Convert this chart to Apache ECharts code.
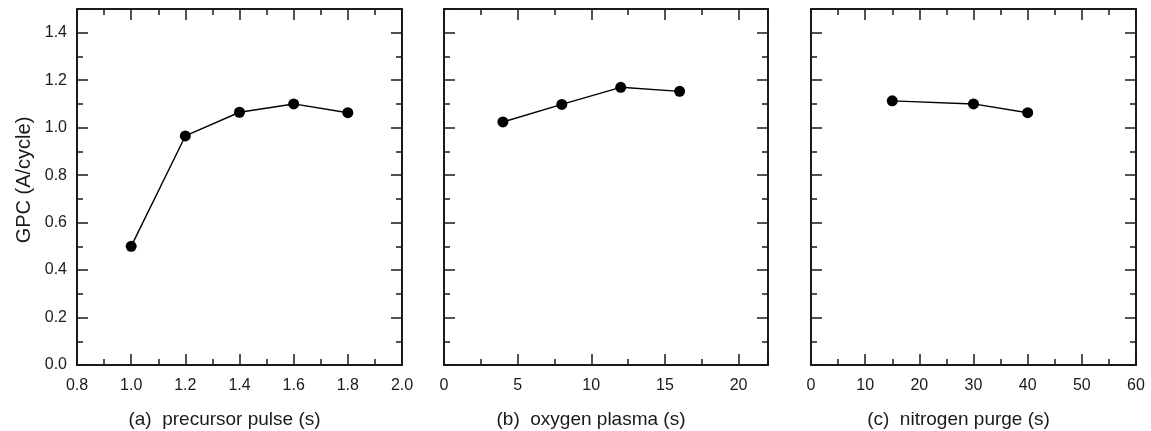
<!DOCTYPE html>
<html>
<head>
<meta charset="utf-8">
<script src="https://cdn.jsdelivr.net/npm/echarts@6/dist/echarts.min.js"></script>
<style>
html,body{margin:0;padding:0;background:#fff;}
#chart{width:1151px;height:431px;}
</style>
</head>
<body>
<div id="chart"></div>
<script>
// ---- data ----
const yName = 'GPC (A/cycle)';
const xNames = ['(a)  precursor pulse (s)', '(b)  oxygen plasma (s)', '(c)  nitrogen purge (s)'];

const xA = [1.0, 1.2, 1.4, 1.6, 1.8];
const yA = [0.50, 0.965, 1.065, 1.10, 1.063];
const xB = [4, 8, 12, 16];
const yB = [1.024, 1.098, 1.170, 1.153];
const xC = [15, 30, 40];
const yC = [1.113, 1.100, 1.063];

const yTickLabels = [0.0, 0.2, 0.4, 0.6, 0.8, 1.0, 1.2, 1.4];
const xTickLabelsA = [0.8, 1.0, 1.2, 1.4, 1.6, 1.8, 2.0];
const xTickLabelsB = [0, 5, 10, 15, 20];
const xTickLabelsC = [0, 10, 20, 30, 40, 50, 60];

// axis ranges: [min, max, major, minor, decimals]
const yRange = [0, 1.5, 0.2, 0.1, 1];
const xRanges = [[0.8, 2.0, 0.2, 0.1, 1], [0, 22, 5, 2.5, 0], [0, 60, 10, 5, 0]];
const xLabelLists = [xTickLabelsA, xTickLabelsB, xTickLabelsC];
const xData = [xA, xB, xC];
const yData = [yA, yB, yC];

// ---- layout ----
const grids = [
  {left: 77, top: 9, width: 325, height: 356, outerBoundsMode: 'none', containLabel: false},
  {left: 444, top: 9, width: 324, height: 356, outerBoundsMode: 'none', containLabel: false},
  {left: 811, top: 9, width: 325, height: 356, outerBoundsMode: 'none', containLabel: false}
];
const INK = '#1a1a1a';
const FONT = '"Liberation Sans", Arial, sans-serif';

function fmt(list, dec) {
  return function (v) {
    for (const t of list) { if (Math.abs(t - v) < 1e-6) return t.toFixed(dec); }
    return '';
  };
}

const xAxis = [], yAxis = [], series = [];
grids.forEach((g, i) => {
  const xr = xRanges[i];
  const base = (pos, major, labels) => ({
    type: 'value', gridIndex: i, position: pos,
    min: xr[0], max: xr[1], interval: major ? xr[2] : xr[3],
    splitLine: {show: false},
    axisLine: {show: major, onZero: false, lineStyle: {color: INK, width: 2}},
    axisTick: {show: true, inside: true, length: major ? 11 : 6, lineStyle: {color: INK, width: 1.5}},
    axisLabel: labels ? {show: true, margin: 13, color: INK, fontSize: 16, fontFamily: FONT,
      formatter: fmt(xLabelLists[i], xr[4]), showMaxLabel: true, showMinLabel: true} : {show: false}
  });
  const xb = base('bottom', true, true);
  xb.name = xNames[i];
  xb.nameLocation = 'middle';
  xb.nameGap = 45;
  xb.nameTextStyle = {color: INK, fontSize: 19, fontFamily: FONT, padding: [0, 30, 0, 0]};
  xAxis.push(xb, base('bottom', false, false), base('top', true, false), base('top', false, false));

  const ybase = (pos, major, labels) => ({
    type: 'value', gridIndex: i, position: pos,
    min: yRange[0], max: yRange[1], interval: major ? yRange[2] : yRange[3],
    splitLine: {show: false},
    axisLine: {show: major, onZero: false, lineStyle: {color: INK, width: 2}},
    axisTick: {show: true, inside: true, length: major ? 11 : 6, lineStyle: {color: INK, width: 1.5}},
    axisLabel: labels ? {show: true, margin: 10, color: INK, fontSize: 16, fontFamily: FONT,
      formatter: fmt(yTickLabels, yRange[4])} : {show: false}
  });
  const yl = ybase('left', true, i === 0);
  if (i === 0) {
    yl.name = yName;
    yl.nameLocation = 'middle';
    yl.nameGap = 43;
    yl.nameTextStyle = {color: INK, fontSize: 20, fontFamily: FONT, padding: [0, 0, 0, 14]};
  }
  yAxis.push(yl, ybase('left', false, false), ybase('right', true, false), ybase('right', false, false));

  series.push({
    type: 'line',
    xAxisIndex: i * 4, yAxisIndex: i * 4,
    data: xData[i].map((x, k) => [x, yData[i][k]]),
    symbol: 'circle', symbolSize: 11,
    itemStyle: {color: '#000'},
    lineStyle: {color: '#000', width: 1.4},
    animation: false
  });
});

const chart = echarts.init(document.getElementById('chart'), null, {renderer: 'canvas'});
chart.setOption({
  backgroundColor: '#fff',
  animation: false,
  grid: grids,
  xAxis: xAxis,
  yAxis: yAxis,
  series: series
});
</script>
</body>
</html>
